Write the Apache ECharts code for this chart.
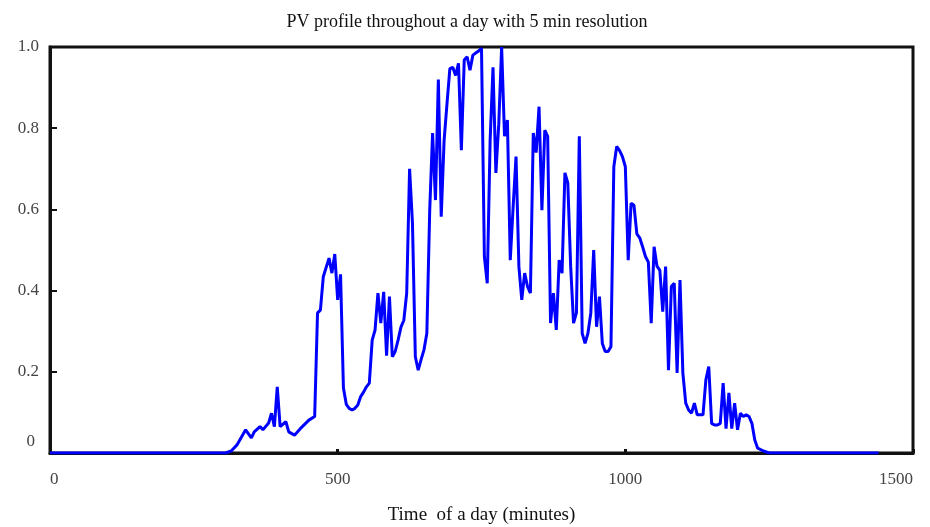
<!DOCTYPE html>
<html>
<head>
<meta charset="utf-8">
<script src="https://cdn.jsdelivr.net/npm/echarts@6/dist/echarts.min.js"></script>
<style>
  html, body { margin: 0; padding: 0; background: #fff; }
  #main { width: 930px; height: 527px; }
</style>
</head>
<body>
<div id="main"></div>
<script>
var times = [0, 305, 315, 325, 340, 350, 355, 365, 370, 380, 385, 390, 395, 400, 410, 415, 425, 435, 450, 460,
    465, 470, 475, 485, 490, 495, 500, 505, 510, 515, 520, 525, 530, 535, 540, 545, 550, 555, 560, 565,
    570, 575, 580, 585, 590, 595, 600, 605, 610, 615, 620, 625, 630, 635, 640, 645, 650, 655, 660, 665,
    670, 675, 680, 685, 690, 695, 700, 705, 710, 715, 720, 725, 730, 735, 740, 745, 750, 755, 760, 765,
    770, 775, 780, 785, 790, 795, 800, 805, 810, 815, 820, 825, 830, 835, 840, 845, 850, 855, 860, 865,
    870, 875, 880, 885, 890, 895, 900, 905, 910, 915, 920, 925, 930, 935, 940, 945, 950, 955, 960, 965,
    970, 975, 980, 985, 990, 995, 1000, 1005, 1010, 1015, 1020, 1025, 1030, 1035, 1040, 1045, 1050, 1055, 1060, 1065,
    1070, 1075, 1080, 1085, 1090, 1095, 1100, 1105, 1110, 1115, 1120, 1125, 1130, 1135, 1140, 1145, 1150, 1155, 1160, 1165,
    1170, 1175, 1180, 1185, 1190, 1195, 1200, 1205, 1210, 1215, 1220, 1225, 1230, 1240, 1250, 1440]
var pv = [0, 0, 0.005, 0.02, 0.057, 0.037, 0.052, 0.065, 0.057, 0.074, 0.098, 0.065, 0.163, 0.065, 0.077, 0.052, 0.044, 0.06, 0.081, 0.09,
    0.345, 0.352, 0.434, 0.48, 0.443, 0.49, 0.377, 0.44, 0.16, 0.12, 0.11, 0.106, 0.11, 0.118, 0.139, 0.15, 0.163, 0.172, 0.278, 0.303,
    0.394, 0.32, 0.397, 0.24, 0.385, 0.237, 0.25, 0.278, 0.31, 0.327, 0.394, 0.70, 0.566, 0.237, 0.204, 0.23, 0.254, 0.295, 0.598, 0.788,
    0.623, 0.92, 0.582, 0.77, 0.86, 0.947, 0.95, 0.93, 0.96, 0.746, 0.968, 0.976, 0.943, 0.98, 0.985, 0.99, 0.997, 0.483, 0.418, 0.77,
    0.95, 0.69, 0.81, 1.0, 0.78, 0.82, 0.475, 0.607, 0.73, 0.459, 0.377, 0.443, 0.41, 0.394, 0.788, 0.74, 0.853, 0.598, 0.795, 0.78,
    0.32, 0.394, 0.303, 0.475, 0.443, 0.69, 0.665, 0.459, 0.32, 0.345, 0.78, 0.295, 0.27, 0.295, 0.345, 0.5, 0.311, 0.385, 0.27, 0.25,
    0.25, 0.262, 0.705, 0.755, 0.745, 0.73, 0.705, 0.475, 0.615, 0.61, 0.54, 0.53, 0.508, 0.484, 0.47, 0.32, 0.508, 0.46, 0.45, 0.348,
    0.459, 0.204, 0.41, 0.418, 0.197, 0.426, 0.197, 0.123, 0.106, 0.098, 0.123, 0.094, 0.094, 0.094, 0.18, 0.213, 0.073, 0.069, 0.069, 0.073,
    0.172, 0.06, 0.148, 0.06, 0.123, 0.057, 0.098, 0.09, 0.094, 0.09, 0.073, 0.032, 0.012, 0.005, 0, 0]

var xTicks = [0, 500, 1000, 1500]
var yTicks = [0, 0.2, 0.4, 0.6, 0.8, 1.0]

var myChart = echarts.init(document.getElementById('main'))
var font = '"Liberation Serif", "DejaVu Serif", serif'

var points = []
times.forEach(function (t, i) {
    points.push([t, pv[i]])
})

var options = {
    animation: false,
    title: {
        text: 'PV profile throughout a day with 5 min resolution',
        left: 462,
        textAlign: 'center',
        top: 8,
        textStyle: { fontFamily: font, fontSize: 18, fontWeight: 'normal', color: '#111' }
    },
    grid: {
        left: 50, right: 17, top: 47, bottom: 74,
        outerBoundsMode: 'none',
        containLabel: false,
        show: true, borderColor: '#111', borderWidth: 3
    },
    xAxis: {
        type: 'value',
        min: xTicks[0], max: xTicks[xTicks.length - 1], interval: 500,
        name: 'Time  of a day (minutes)',
        nameLocation: 'middle',
        nameGap: 53,
        nameTextStyle: { fontFamily: font, fontSize: 19, color: '#111' },
        axisLine: { lineStyle: { color: '#111', width: 3 } },
        axisTick: { show: true, inside: true, length: 4, lineStyle: { color: '#111', width: 3 } },
        axisLabel: {
            fontFamily: font, fontSize: 17, color: '#444', margin: 18,
            alignMinLabel: 'left', alignMaxLabel: 'right',
            formatter: function (v) { return String(v) }
        },
        splitLine: { show: false }
    },
    yAxis: {
        type: 'value',
        min: yTicks[0], max: yTicks[yTicks.length - 1], interval: 0.2,
        axisLine: { lineStyle: { color: '#111', width: 3 } },
        axisTick: { show: true, inside: true, length: 7, lineStyle: { color: '#111', width: 2 } },
        axisLabel: {
            fontFamily: font, fontSize: 17, color: '#444', margin: 11,
            formatter: function (v) { return v === 0 ? '{z|0}' : v.toFixed(1) },
            rich: {
                z: { fontFamily: font, fontSize: 17, color: '#444', padding: [0, 4, 22, 0] }
            }
        },
        splitLine: { show: false }
    },
    series: [
        {
            name: 'PV',
            type: 'line',
            data: points,
            showSymbol: false,
            symbol: 'none',
            lineStyle: { color: '#0000ff', width: 3 },
            itemStyle: { color: '#0000ff' }
        }
    ]
}
myChart.setOption(options)
</script>
</body>
</html>
